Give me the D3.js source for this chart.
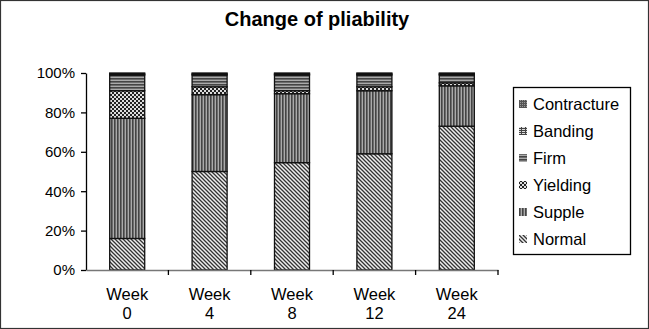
<!DOCTYPE html>
<html><head><meta charset="utf-8">
<script src="https://cdn.jsdelivr.net/npm/d3@7"></script>
<style>body{margin:0;background:#fff}svg{display:block;font-family:"Liberation Sans",Arial,sans-serif}</style>
</head><body><svg id="c" width="649" height="329"></svg>
<script>
const categories = ["Week\n0","Week\n4","Week\n8","Week\n12","Week\n24"];
const seriesNames = ["Normal","Supple","Yielding","Firm","Banding","Contracture"];
const normal      = [16, 50, 54.5, 59, 73];
const supple      = [61, 39, 35, 32, 20.5];
const yielding    = [14, 4, 1.5, 2, 1.5];
const firm        = [8, 6, 8, 6, 4];
const banding     = [0.5, 0.5, 0.5, 0.5, 0.5];
const contracture = [0.5, 0.5, 0.5, 0.5, 0.5];
const yTicks = [0, 0.2, 0.4, 0.6, 0.8, 1.0];
const legendOrder = ["Contracture","Banding","Firm","Yielding","Supple","Normal"];

const seriesValues = {Normal:normal, Supple:supple, Yielding:yielding, Firm:firm, Banding:banding, Contracture:contracture};
const rows = categories.map((c,i)=>{const r={cat:c}; let tot=0; seriesNames.forEach(s=>tot+=seriesValues[s][i]); seriesNames.forEach(s=>r[s]=seriesValues[s][i]/tot); return r;});

const svg = d3.select("#c");
svg.append("rect").attr("x",0.5).attr("y",0.5).attr("width",648).attr("height",328).attr("fill","none").attr("stroke","#333").attr("stroke-width",1.2);

const defs = svg.append("defs");
function pat(id, size, draw, bg){
  const p = defs.append("pattern").attr("id",id).attr("patternUnits","userSpaceOnUse").attr("width",size).attr("height",size);
  p.append("rect").attr("width",size).attr("height",size).attr("fill",bg||"#fff");
  draw(p);
}
pat("p-Normal",4,p=>{
  p.append("path").attr("d","M-1,-1 L5,5 M-1,3 L1,5 M3,-1 L5,1").attr("stroke","#333").attr("stroke-width",1.3);
}, "#eee");
pat("p-Supple",3,p=>{
  p.append("rect").attr("x",0).attr("y",0).attr("width",1.6).attr("height",3).attr("fill","#444");
}, "#aaa");
pat("p-Yielding",4,p=>{
  p.append("rect").attr("width",2).attr("height",2).attr("fill","#222");
  p.append("rect").attr("x",2).attr("y",2).attr("width",2).attr("height",2).attr("fill","#222");
}, "#ddd");
pat("p-Firm",3,p=>{
  p.append("rect").attr("x",0).attr("y",0).attr("width",3).attr("height",1.6).attr("fill","#444");
}, "#aaa");
pat("p-Banding",4,p=>{
  p.append("path").attr("d","M0,0.5 H4 M0,2.5 H4 M1.5,0 V4").attr("stroke","#444").attr("stroke-width",1);
}, "#ddd");
pat("p-Contracture",2,p=>{
  p.append("rect").attr("width",2).attr("height",2).attr("fill","#555");
  p.append("rect").attr("width",1).attr("height",1).attr("fill","#999");
});

const m = {l:86, r:498, t:73, b:270};
const x = d3.scaleBand().domain(categories).range([m.l, m.r]).paddingInner(0.575).paddingOuter(0.2875);
const y = d3.scaleLinear().domain([0,1]).range([m.b, m.t]);

const stack = d3.stack().keys(seriesNames)(rows);
const g = svg.append("g");
stack.forEach(layer=>{
  g.selectAll(null).data(layer).enter().append("rect")
    .attr("x",d=>x(d.data.cat)).attr("width",x.bandwidth())
    .attr("y",d=>y(d[1])).attr("height",d=>Math.max(0,y(d[0])-y(d[1])))
    .attr("fill",`url(#p-${layer.key})`).attr("stroke","#111").attr("stroke-width",1.3);
});

const ya = svg.append("g").attr("transform",`translate(${m.l},0)`)
  .call(d3.axisLeft(y).tickValues(yTicks).tickFormat(d3.format(".0%")).tickSize(5).tickSizeOuter(0));
ya.select(".domain").attr("stroke","#000").attr("stroke-width",1.3);
ya.selectAll(".tick line").attr("stroke","#000").attr("stroke-width",1.3);
ya.selectAll(".tick text").attr("font-size",15).attr("fill","#000").attr("x",-11).attr("font-family","Liberation Sans, Arial, sans-serif");

const xa = svg.append("g").attr("transform",`translate(0,${m.b})`)
  .call(d3.axisBottom(x).tickSize(0).tickFormat(""));
xa.select(".domain").attr("stroke","#777").attr("stroke-width",1.6);
const step = x.step();
const bounds = d3.range(categories.length).map(i=>x(categories[i]) - x.paddingInner()*step/2 + step);
svg.append("g").selectAll("line").data(bounds).enter().append("line")
  .attr("x1",d=>d).attr("x2",d=>d).attr("y1",m.b).attr("y2",m.b+5).attr("stroke","#000").attr("stroke-width",1.3);
const lab = svg.append("g").selectAll("text").data(categories).enter().append("text")
  .attr("x",d=>x(d)+x.bandwidth()/2).attr("text-anchor","middle").attr("font-size",16.5).attr("fill","#000");
lab.each(function(d){
  const parts = d.split("\n");
  d3.select(this).selectAll("tspan").data(parts).enter().append("tspan")
    .attr("x",x(d)+x.bandwidth()/2).attr("y",(p,i)=>300+i*19).text(p=>p);
});

svg.append("text").attr("x",317).attr("y",26).attr("text-anchor","middle")
  .attr("font-size",20).attr("font-weight","bold").text("Change of pliability");

const lg = svg.append("g");
lg.append("rect").attr("x",513.5).attr("y",87.5).attr("width",117).attr("height",167).attr("fill","#fff").attr("stroke","#000").attr("stroke-width",1.3);
legendOrder.forEach((s,i)=>{
  const cy = 104 + i*27;
  lg.append("rect").attr("x",519).attr("y",cy-4).attr("width",8).attr("height",8).attr("fill",`url(#p-${s})`);
  lg.append("text").attr("x",533).attr("y",cy+6).attr("font-size",16.5).attr("fill","#000").text(s);
});
</script></body></html>
